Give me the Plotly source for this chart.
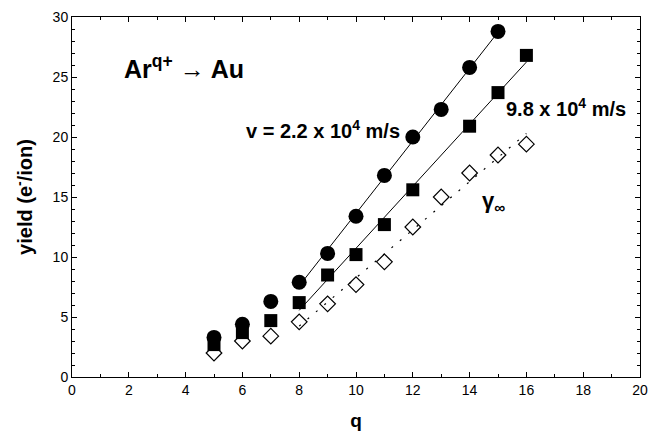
import numpy as np
import plotly.graph_objects as go

q_c = [5, 6, 7, 8, 9, 10, 11, 12, 13, 14, 15]
y_c = [3.3, 4.4, 6.3, 7.9, 10.3, 13.4, 16.8, 20.0, 22.3, 25.8, 28.8]
q_s = [5, 6, 7, 8, 9, 10, 11, 12, 14, 15, 16]
y_s = [2.7, 3.7, 4.7, 6.2, 8.5, 10.2, 12.7, 15.6, 20.9, 23.7, 26.8]
q_d = [5, 6, 7, 8, 9, 10, 11, 12, 13, 14, 15, 16]
y_d = [2.0, 3.0, 3.4, 4.6, 6.1, 7.7, 9.6, 12.5, 15.0, 17.0, 18.5, 19.4]

xticks = list(range(0, 21, 2))
yticks = list(range(0, 31, 5))

def fit(qs, ys, qmin, x0, x1):
    qq = np.array([a for a in qs if a >= qmin], float)
    yy = np.array([b for a, b in zip(qs, ys) if a >= qmin], float)
    k, b = np.polyfit(qq, yy, 1)
    xs = np.array([x0, x1], float)
    return xs, k * xs + b

fig = go.Figure()
xf, yf = fit(q_c, y_c, 8, 8, 15)
fig.add_trace(go.Scatter(x=xf, y=yf, mode="lines", line=dict(color="black", width=1)))
xf, yf = fit(q_s, y_s, 8, 8, 16)
fig.add_trace(go.Scatter(x=xf, y=yf, mode="lines", line=dict(color="black", width=1)))
xf, yf = fit(q_d, y_d, 8, 8, 16)
fig.add_trace(go.Scatter(x=xf, y=yf, mode="lines", line=dict(color="black", width=1.2, dash="2px,9px")))

fig.add_trace(go.Scatter(x=q_c, y=y_c, mode="markers",
                         marker=dict(symbol="circle", size=15, color="black")))
fig.add_trace(go.Scatter(x=q_s, y=y_s, mode="markers",
                         marker=dict(symbol="square", size=13, color="black")))
fig.add_trace(go.Scatter(x=q_d, y=y_d, mode="markers",
                         marker=dict(symbol="diamond-open", size=12, color="black",
                                     line=dict(width=1.2, color="black"))))

FONT = "Liberation Sans, Arial, Helvetica"
axis_common = dict(showline=True, linecolor="black", linewidth=1, mirror="ticks",
                   ticks="inside", ticklen=5, tickcolor="black", showgrid=False,
                   zeroline=False, tickfont=dict(family=FONT, size=14, color="black"))
fig.update_xaxes(range=[0, 20], tickvals=xticks,
                 minor=dict(dtick=1, ticks="inside", ticklen=3, tickcolor="black"),
                 title=dict(text="<b>q</b>", font=dict(family=FONT, size=19, color="black"),
                            standoff=16),
                 **axis_common)
fig.update_yaxes(range=[0, 30], tickvals=yticks,
                 minor=dict(dtick=1, ticks="inside", ticklen=3, tickcolor="black"),
                 title=dict(text="<b>yield (e<sup>-</sup>/ion)</b>",
                            font=dict(family=FONT, size=20, color="black"), standoff=14),
                 **axis_common)

ann_font = dict(family=FONT, color="black")
fig.add_annotation(x=1.75, y=25.8, xref="x", yref="y", xanchor="left", yanchor="middle",
                   text="<b>Ar<sup>q+</sup> → Au</b>", showarrow=False, font=dict(size=25, **ann_font))
fig.add_annotation(x=6.05, y=20.6, xref="x", yref="y", xanchor="left", yanchor="middle",
                   text="<b>v = 2.2 x 10<sup>4</sup> m/s</b>", showarrow=False, font=dict(size=20, **ann_font))
fig.add_annotation(x=15.2, y=22.5, xref="x", yref="y", xanchor="left", yanchor="middle",
                   text="<b>9.8 x 10<sup>4</sup> m/s</b>", showarrow=False, font=dict(size=20, **ann_font))
fig.add_annotation(x=14.35, y=14.6, xref="x", yref="y", xanchor="left", yanchor="middle",
                   text="<b>γ<sub>∞</sub></b>", showarrow=False, font=dict(size=22, **ann_font))

fig.update_layout(width=657, height=438, margin=dict(l=72, r=9, t=17, b=61),
                  plot_bgcolor="white", paper_bgcolor="white", showlegend=False)
fig.write_html("out.html")
